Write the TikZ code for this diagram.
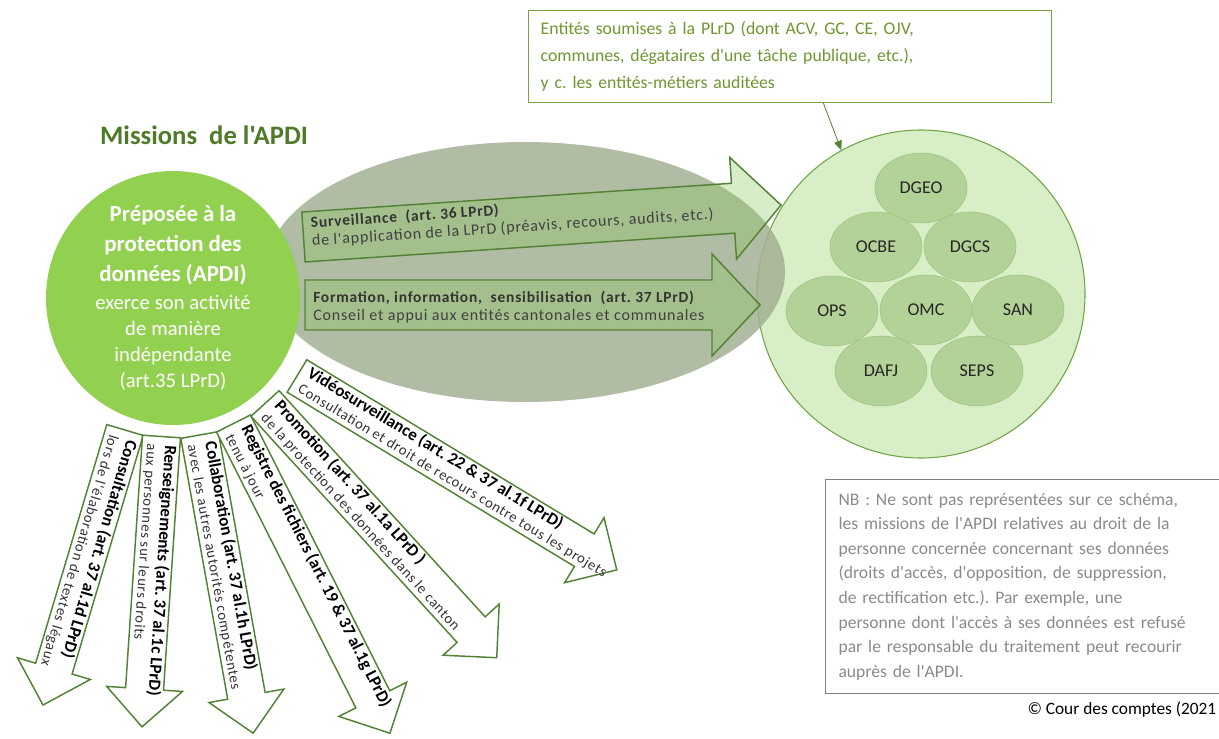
\documentclass[tikz,border=0pt]{standalone}
\usepackage{fontspec}
\setmainfont{Carlito}[Ligatures=TeXOff]
\usetikzlibrary{shapes.geometric,arrows.meta}
\frenchspacing

\definecolor{apdigreen}{RGB}{146,208,80}
\definecolor{titlegreen}{RGB}{79,122,40}
\definecolor{ovalgray}{RGB}{162,176,147}
\definecolor{entitybg}{RGB}{216,238,199}
\definecolor{entityline}{RGB}{112,165,70}
\definecolor{unitfill}{RGB}{178,210,152}
\definecolor{unitline}{RGB}{158,195,128}
\definecolor{arrowline}{RGB}{84,130,53}
\definecolor{flowfill}{RGB}{140,200,100}
\definecolor{boxtext}{RGB}{112,150,48}
\definecolor{notegray}{RGB}{128,128,128}
\definecolor{notetext}{RGB}{138,138,138}

% block arrow: #1 style, #2 name, #3 tail centre, #4 angle, #5 length (px),
% #6 text offset across the shaft (px), #7 text
\newcommand\blockarrow[7]{%
  \begin{scope}[shift={#3}, rotate=#4, x=0.75pt, y=0.75pt]
    \path[#1] (0,-\halfshaft) -- ({#5-\headlen},-\halfshaft)
      -- ({#5-\headlen},-\halfhead) -- (#5,0) -- ({#5-\headlen},\halfhead)
      -- ({#5-\headlen},\halfshaft) -- (0,\halfshaft) -- cycle;
    \node[transform shape, anchor=west, inner sep=0pt, align=left] (#2) at (8,#6) {#7};
  \end{scope}}

% two-line captions of the arrows
\newcommand\fantext[2]{{\fontsize{12.8}{13}\selectfont\bfseries #1}\\{\fontsize{11}{13}\selectfont\addfontfeatures{LetterSpace=5}\color{black!80}#2}}
\newcommand\flowtext[2]{{\fontsize{11.6}{15}\selectfont\bfseries\addfontfeatures{LetterSpace=5}\color{black!80}#1}\\{\fontsize{12}{15}\selectfont\addfontfeatures{LetterSpace=5}\color{black!75}#2}}

\begin{document}
\begin{tikzpicture}[x=0.75pt, y=-0.75pt,
  fanarrow/.style={draw=arrowline, line width=1.1pt, fill=white, line join=miter},
  flowarrow/.style={draw=arrowline, line width=1.1pt, fill=flowfill, fill opacity=0.35},
  unit/.style={ellipse, draw=unitline, fill=unitfill, minimum width=69pt, minimum height=52.5pt,
    inner sep=0pt, font=\fontsize{13.5}{16}\selectfont, text=black!85},
  every node/.style={font=\fontsize{11}{13.5}\selectfont}]

\useasboundingbox (0,0) rectangle (1219,738);

% audited entities
\node[circle, draw=entityline, line width=0.8pt, fill=entitybg, minimum size=246pt, inner sep=0pt] (entities) at (921,294) {};

% field of supervision
\node[ellipse, fill=ovalgray, fill opacity=0.85, minimum width=390pt, minimum height=195pt, inner sep=0pt] (oval) at (525,272) {};

% the data protection officer
\node[circle, fill=apdigreen, minimum size=190.5pt, inner sep=0pt] (apdi) at (173,298) {};
\node[text=white, align=center, text width=160pt, inner sep=0pt] (apdi-label) at (apdi.center) {%
  {\fontsize{17.2}{22.5}\selectfont\bfseries Préposée à la\\ protection des\\ données (APDI)\par}
  \vspace{1pt}
  {\fontsize{15.5}{19.5}\selectfont exerce son activité\\ de manière\\ indépendante\\ (art.35 LPrD)\par}};

\node[font=\fontsize{20}{24}\selectfont\bfseries, text=titlegreen] (title) at (204,135) {Missions\ \ de l'APDI};

% departments
\node[unit] (dgeo) at (921,188) {DGEO};
\node[unit] (ocbe) at (876,247) {OCBE};
\node[unit] (dgcs) at (970,247) {DGCS};
\node[unit] (ops)  at (832,311) {OPS};
\node[unit] (omc)  at (926,310) {OMC};
\node[unit] (san)  at (1018,310) {SAN};
\node[unit] (dafj) at (881,371) {DAFJ};
\node[unit] (seps) at (977,371) {SEPS};

% missions towards the entities
\def\halfshaft{25}\def\halfhead{51}\def\headlen{48}
\blockarrow{flowarrow}{surv}{(303.5,237)}{3.83}{478.6}{4}{\flowtext{Surveillance\ \ (art. 36 LPrD)}{de l'application de la LPrD (préavis, recours, audits, etc.)}}
\blockarrow{flowarrow}{form}{(305,305)}{0}{455}{-2}{\flowtext{Formation, information,\ \ sensibilisation\ \ (art. 37 LPrD)}{Conseil et appui aux entités cantonales et communales}}

% other missions
\def\halfshaft{19}\def\halfhead{38}\def\headlen{38}
\blockarrow{fanarrow}{consult}{(125,430)}{-106.6}{287}{0.5}{\fantext{Consultation (art. 37 al.1d LPrD)}{lors de l'élaboration de textes légaux}}
\blockarrow{fanarrow}{renseig}{(161.5,436.5)}{-93.84}{291}{0.5}{\fantext{Renseignements (art. 37 al.1c LPrD)}{aux personnes sur leurs droits}}
\blockarrow{fanarrow}{collab}{(199.5,435)}{-79.8}{303}{0.5}{\fantext{Collaboration (art. 37 al.1h LPrD)}{avec les autres autorités compétentes}}
\blockarrow{fanarrow}{registre}{(233.5,423.5)}{-63.2}{347}{0.5}{\fantext{Registre des fichiers (art. 19 \& 37 al.1g LPrD)}{tenu à jour}}
\blockarrow{fanarrow}{promo}{(265,403.5)}{-47.65}{344}{0.5}{\fantext{Promotion (art. 37 al.1a LPrD )}{de la protection des données dans le canton}}
\blockarrow{fanarrow}{video}{(297,376)}{-31.23}{374}{0.5}{\fantext{Vidéosurveillance (art. 22 \& 37 al.1f LPrD)}{Consultation et droit de recours contre tous les projets}}

% entities subject to the law
\node[draw=entityline, line width=0.8pt, fill=white, text=boxtext, anchor=north west,
  minimum width=392.25pt, minimum height=69pt, text width=374pt, inner xsep=9pt, align=left,
  font=\fontsize{13.3}{20.5}\selectfont] (soumises) at (528,10)
  {Entités soumises à la PLrD (dont ACV, GC, CE, OJV,\\ communes, dégataires d'une tâche publique, etc.),\\ y c. les entités-métiers auditées};
\draw[arrowline, line width=0.6pt, -{Triangle[length=7pt,width=6pt]}] ([xshift=25pt]soumises.south) -- (entities.119.5);

% note
\node[draw=notegray, line width=0.8pt, text=notetext, anchor=north west,
  minimum width=300pt, minimum height=160.5pt, text width=300pt, inner xsep=9.75pt, align=left,
  font=\fontsize{13.2}{18.4}\selectfont] (note) at (825,479)
  {NB : Ne sont pas représentées sur ce schéma,\\ les missions de l'APDI relatives au droit de la\\ personne concernée concernant ses données\\ (droits d'accès, d'opposition, de suppression,\\ de rectification etc.). Par exemple, une\\ personne dont l'accès à ses données est refusé\\ par le responsable du traitement peut recourir\\ auprès de l'APDI.};

\node[anchor=east, font=\fontsize{13}{15}\selectfont] (copyright) at (1221,710) {© Cour des comptes (2021};
\end{tikzpicture}
\end{document}
